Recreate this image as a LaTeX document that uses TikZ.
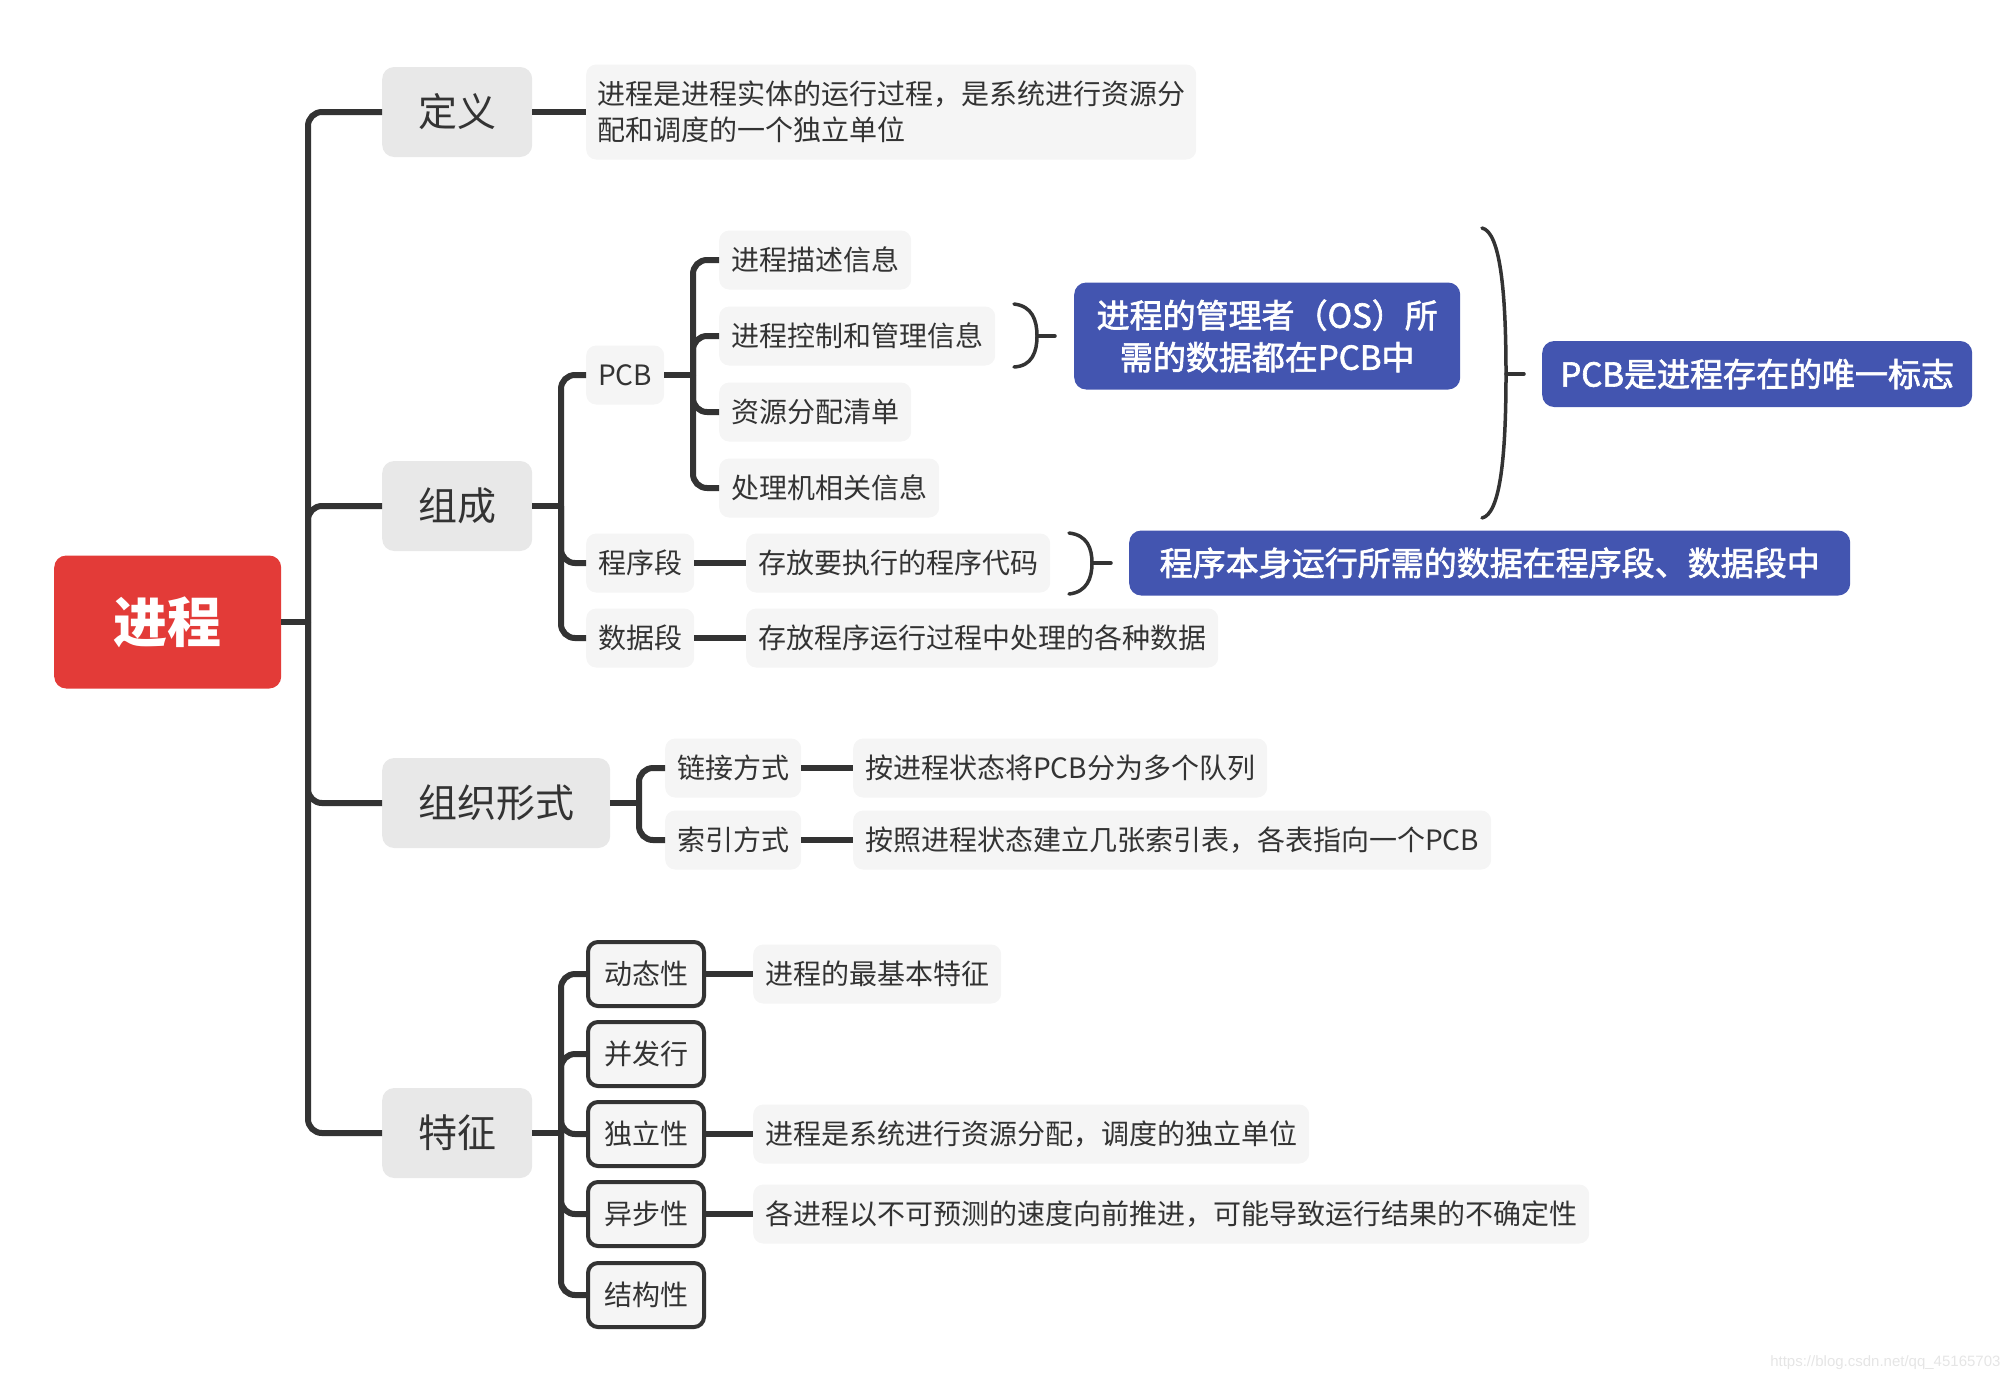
\documentclass[tikz,border=0pt]{standalone}
\usepackage{fontspec}
\setmainfont{Noto Sans CJK SC}
\newfontfamily\medfont{Noto Sans CJK SC}[FakeBold=2]
\newfontfamily\wmfont{Liberation Sans}
\usetikzlibrary{calc}
\definecolor{ink}{HTML}{333333}
\definecolor{lonegray}{HTML}{E8E8E8}
\definecolor{leafgray}{HTML}{F5F5F5}
\definecolor{pblue}{HTML}{4355B0}
\definecolor{rootred}{HTML}{E33B38}
\begin{document}
\begin{tikzpicture}[x=1pt,y=-1pt,
  rootbox/.style={fill=rootred, rounded corners=12, text=white, font=\bfseries\fontsize{54}{60}\selectfont, minimum width=227, minimum height=133, anchor=west},
  lvlone/.style={fill=lonegray, rounded corners=12, text=ink, font=\fontsize{39}{47}\selectfont, minimum height=90, inner xsep=36, anchor=west},
  leaf/.style={fill=leafgray, rounded corners=10, text=ink, font=\fontsize{28}{36}\selectfont, minimum height=59, inner xsep=12, anchor=west},
  feat/.style={leaf, draw=ink, line width=4, minimum height=64, inner xsep=16},
  bluebox/.style={fill=pblue, rounded corners=12, text=white, font=\medfont\fontsize{33}{42}\selectfont, align=center, anchor=west, inner xsep=4},
  conn/.style={draw=ink, line width=6, rounded corners=14},
  bracel/.style={draw=ink, line width=3.5, line cap=round}
]
\useasboundingbox (0,0) rectangle (2012,1382);

% root and level one
\node[rootbox] (root) at (54,622) {进程};
\node[lvlone] (def) at (382,112) {定义};
\node[lvlone] (zc) at (382,506) {组成};
\node[lvlone] (zzxs) at (382,803) {组织形式};
\node[lvlone] (tz) at (382,1133) {特征};

% definition
\node[leaf, align=left, minimum height=95, inner xsep=11] (defT) at (586,112) {进程是进程实体的运行过程，是系统进行资源分\\配和调度的一个独立单位};

% composition
\node[leaf] (pcb) at (586,375) {PCB};
\node[leaf] (p1) at (719,260) {进程描述信息};
\node[leaf] (p2) at (719,336) {进程控制和管理信息};
\node[leaf] (p3) at (719,412) {资源分配清单};
\node[leaf] (p4) at (719,488) {处理机相关信息};
\node[bluebox, minimum width=386, minimum height=107] (b1) at (1074,336) {进程的管理者（OS）所\\需的数据都在PCB中};
\node[bluebox, minimum width=430, minimum height=66] (b2) at (1542,374) {PCB是进程存在的唯一标志};
\node[leaf] (cxd) at (586,563) {程序段};
\node[leaf] (cxdT) at (746,563) {存放要执行的程序代码};
\node[bluebox, minimum width=721, minimum height=65] (b3) at (1129,563) {程序本身运行所需的数据在程序段、数据段中};
\node[leaf] (sjd) at (586,638) {数据段};
\node[leaf] (sjdT) at (746,638) {存放程序运行过程中处理的各种数据};

% organisation
\node[leaf] (lj) at (665,768) {链接方式};
\node[leaf] (ljT) at (853,768) {按进程状态将PCB分为多个队列};
\node[leaf] (sy) at (665,840) {索引方式};
\node[leaf] (syT) at (853,840) {按照进程状态建立几张索引表，各表指向一个PCB};

% features
\node[feat] (f1) at (586,974) {动态性};
\node[leaf] (f1T) at (753,974) {进程的最基本特征};
\node[feat] (f2) at (586,1054) {并发行};
\node[feat] (f3) at (586,1134) {独立性};
\node[leaf] (f3T) at (753,1134) {进程是系统进行资源分配，调度的独立单位};
\node[feat] (f4) at (586,1214) {异步性};
\node[leaf] (f4T) at (753,1214) {各进程以不可预测的速度向前推进，可能导致运行结果的不确定性};
\node[feat] (f5) at (586,1295) {结构性};

% connectors
\coordinate (j0) at (308,622);
\draw[conn] (root.east) -- (j0);
\foreach \c in {def,zc,zzxs,tz} \draw[conn] (j0) |- (\c.west);
\draw[conn] (def.east) -- (defT.west);

\coordinate (j1) at (561,506);
\draw[conn] (zc.east) -- (j1);
\foreach \c in {pcb,cxd,sjd} \draw[conn] (j1) |- (\c.west);

\coordinate (j2) at (693,375);
\draw[conn] (pcb.east) -- (j2);
\foreach \c in {p1,p2,p3,p4} \draw[conn] (j2) |- (\c.west);

\draw[conn] (cxd.east) -- (cxdT.west);
\draw[conn] (sjd.east) -- (sjdT.west);

\coordinate (j3) at (639,803);
\draw[conn] (zzxs.east) -- (j3);
\foreach \c in {lj,sy} \draw[conn] (j3) |- (\c.west);
\draw[conn] (lj.east) -- (ljT.west);
\draw[conn] (sy.east) -- (syT.west);

\coordinate (j4) at (561,1133);
\draw[conn] (tz.east) -- (j4);
\foreach \c in {f1,f2,f3,f4,f5} \draw[conn] (j4) |- (\c.west);
\draw[conn] (f1.east) -- (f1T.west);
\draw[conn] (f3.east) -- (f3T.west);
\draw[conn] (f4.east) -- (f4T.west);

% braces
\coordinate (t1) at ($(b1.west)+(-19,0)$);
\draw[bracel] ($(t1)+(-41,-32)$) .. controls ($(t1)+(-23,-30)$) and ($(t1)+(-18,-16)$) .. ($(t1)+(-18,0)$)
  .. controls ($(t1)+(-18,16)$) and ($(t1)+(-23,30)$) .. ($(t1)+(-41,31)$);
\draw[bracel] ($(t1)+(-18,0)$) -- (t1);

\coordinate (t2) at ($(b2.west)+(-18,0)$);
\draw[bracel] ($(t2)+(-42,-146)$) .. controls ($(t2)+(-24,-142)$) and ($(t2)+(-18,-84)$) .. ($(t2)+(-18,0)$)
  .. controls ($(t2)+(-18,84)$) and ($(t2)+(-24,140)$) .. ($(t2)+(-42,144)$);
\draw[bracel] ($(t2)+(-18,0)$) -- (t2);

\coordinate (t3) at ($(b3.west)+(-18,0)$);
\draw[bracel] ($(t3)+(-42,-30)$) .. controls ($(t3)+(-24,-28)$) and ($(t3)+(-19,-15)$) .. ($(t3)+(-19,0)$)
  .. controls ($(t3)+(-19,15)$) and ($(t3)+(-24,29)$) .. ($(t3)+(-42,31)$);
\draw[bracel] ($(t3)+(-19,0)$) -- (t3);

% watermark
\node[text=black!10, font=\wmfont\fontsize{15}{18}\selectfont, anchor=east] (wm) at (2004,1363) {https://blog.csdn.net/qq\_45165703};
\end{tikzpicture}
\end{document}
